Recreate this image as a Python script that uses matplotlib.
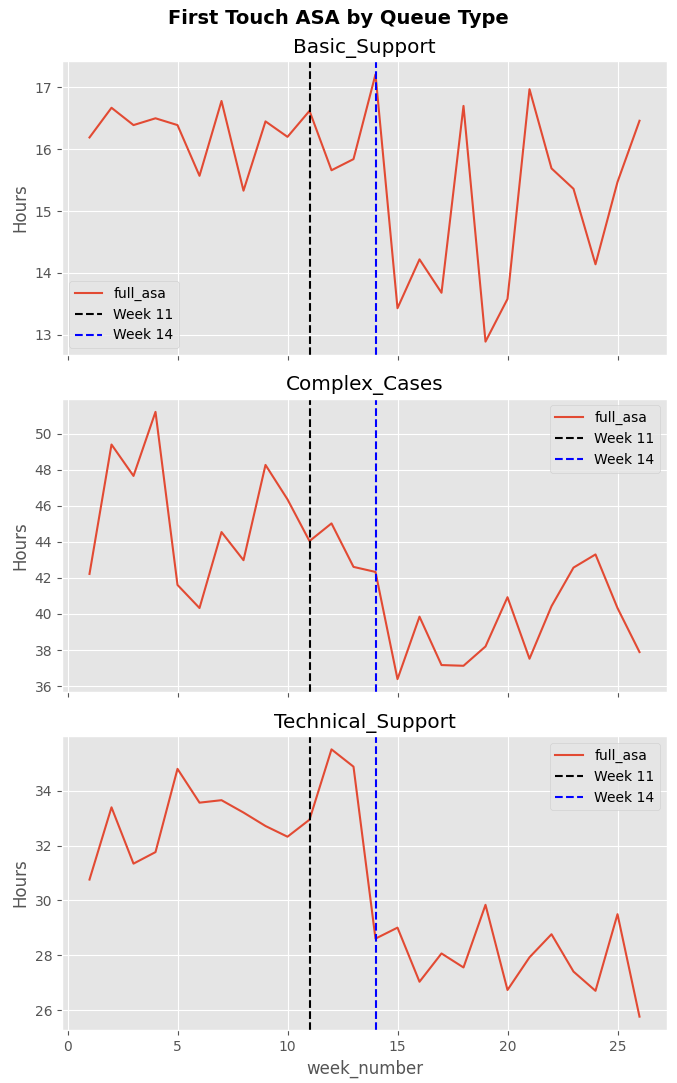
import matplotlib
matplotlib.use("Agg")
import matplotlib.pyplot as plt

plt.style.use("ggplot")

weeks = list(range(1, 27))
queues = ["Basic_Support", "Complex_Cases", "Technical_Support"]

basic_support = [16.19, 16.67, 16.39, 16.50, 16.39, 15.57, 16.78, 15.33, 16.45, 16.20,
                 16.62, 15.66, 15.84, 17.21, 13.43, 14.22, 13.68, 16.70, 12.89, 13.58,
                 16.97, 15.69, 15.36, 14.14, 15.47, 16.46]
complex_cases = [42.22, 49.39, 47.65, 51.20, 41.61, 40.33, 44.54, 42.98, 48.26, 46.35,
                 44.04, 45.02, 42.61, 42.33, 36.39, 39.85, 37.17, 37.13, 38.20, 40.93,
                 37.52, 40.43, 42.57, 43.30, 40.33, 37.89]
technical_support = [30.76, 33.39, 31.34, 31.76, 34.79, 33.56, 33.65, 33.20, 32.71, 32.32,
                     32.94, 35.50, 34.87, 28.61, 29.01, 27.04, 28.07, 27.56, 29.84, 26.74,
                     27.93, 28.77, 27.41, 26.71, 29.50, 25.77]

series = [basic_support, complex_cases, technical_support]
legend_locs = ["lower left", "upper right", "upper right"]

fig, axes = plt.subplots(3, 1, figsize=(6.77, 10.83), sharex=True)
# axes placed to match the reference layout
fig.subplots_adjust(left=62 / 677, right=667 / 677, top=1 - 61 / 1083,
                    bottom=1 - 1030 / 1083, hspace=0.148)

for ax, name, vals, loc in zip(axes, queues, series, legend_locs):
    ax.plot(weeks, vals, label="full_asa")
    ax.axvline(11, color="black", linestyle="--", label="Week 11")
    ax.axvline(14, color="blue", linestyle="--", label="Week 14")
    ax.set_title(name)
    ax.set_ylabel("Hours")
    ax.legend(loc=loc, facecolor="#e5e5e5")

axes[-1].set_xlabel("week_number")
fig.suptitle("First Touch ASA by Queue Type", fontweight="bold", fontsize=14,
             y=1 - 18 / 1083, va="center")
plt.savefig("out.png", dpi=100)
